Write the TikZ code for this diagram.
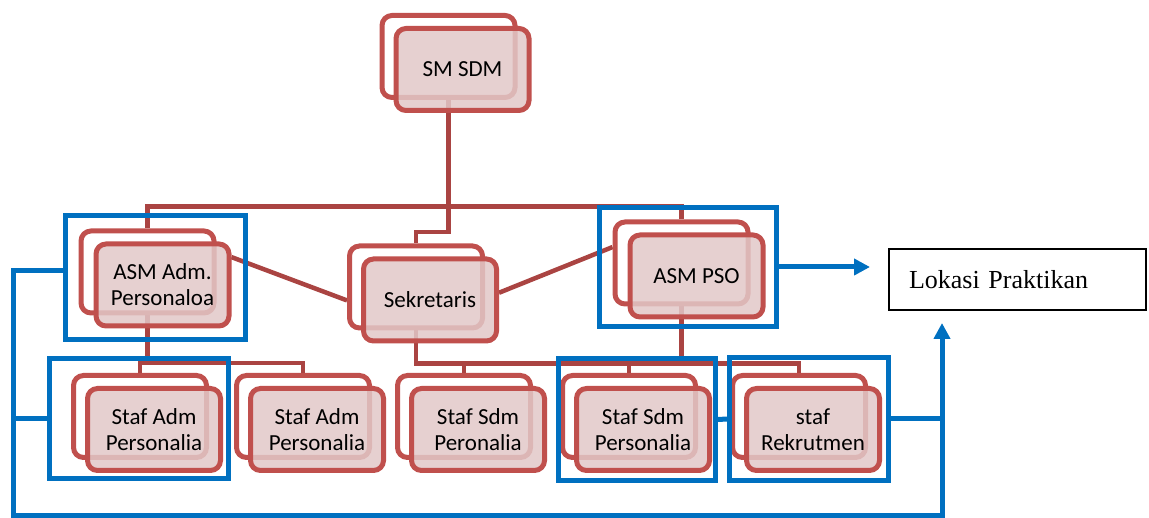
\documentclass[tikz,border=0pt]{standalone}
\usepackage{fontspec}
\setmainfont{Carlito}
\newfontfamily\timesfont{Liberation Serif}
\usepackage{tikz}
\usetikzlibrary{positioning, arrows.meta, calc, backgrounds}

\definecolor{orgred}{RGB}{192,80,77}
\definecolor{orglink}{RGB}{170,68,66}
\definecolor{orgfill}{RGB}{226,200,200}
\definecolor{markblue}{RGB}{0,112,192}

\begin{document}
\begin{tikzpicture}[
  x=1pt, y=-1pt,
  node distance=25pt,
  orgback/.style={
    rectangle, draw=orgred, line width=5pt, rounded corners=10pt,
    minimum width=133pt, minimum height=82pt
  },
  orgbox/.style={
    orgback, fill=orgfill, fill opacity=0.85, text opacity=1,
    font=\fontsize{23}{26}\selectfont, align=center, inner sep=0pt
  },
  link/.style={draw=orglink, line width=4.5pt},
  hlbox/.style={rectangle, draw=markblue, line width=5pt, inner sep=0pt},
  blueline/.style={draw=markblue, line width=5pt},
  bluearrow/.style={blueline, -{Triangle[length=16pt,width=16pt]}}
]
  \useasboundingbox (0,0) rectangle (1149,518);

  % Back frames
  \node[orgback] (smb) at (448.5,56.5) {};
  \node[orgback] (asmb) at (147.5,272) {};
  \node[orgback] (sekb) at (416,287) {};
  \node[orgback] (psob) at (681.5,263) {};
  \node[orgback] (st1b) at (140,416.5) {};
  \node[orgback, right=of st1b] (st2b) {};
  \node[orgback, right=23pt of st2b] (st3b) {};
  \node[orgback, right=27pt of st3b] (st4b) {};
  \node[orgback, right=32pt of st4b] (st5b) {};

  % Org chart boxes
  \node[orgbox] (sm) at ($(smb)+(14,13)$) {SM SDM};
  \node[orgbox] (asm) at ($(asmb)+(15,13)$) {ASM Adm.\\Personaloa};
  \node[orgbox] (sek) at ($(sekb)+(14,13)$) {Sekretaris};
  \node[orgbox] (pso) at ($(psob)+(15,13)$) {ASM PSO};
  \node[orgbox] (st1) at ($(st1b)+(14,13)$) {Staf Adm\\Personalia};
  \node[orgbox] (st2) at ($(st2b)+(14,13)$) {Staf Adm\\Personalia};
  \node[orgbox] (st3) at ($(st3b)+(14,13)$) {Staf Sdm\\Peronalia};
  \node[orgbox] (st4) at ($(st4b)+(14,13)$) {Staf Sdm\\Personalia};
  \node[orgbox] (st5) at ($(st5b)+(14,13)$) {staf\\Rekrutmen};

  % Org chart links
  \begin{scope}[on background layer]
    \draw[link] (asmb.north) -- ++(0,-22) -| (psob.north);
    \draw[link] (smb.south) -- ++(0,132) -| (sekb.north);
    \draw[link] (asm.22) -- (sekb.191);
    \draw[link] (sek.6) -- (psob.167);
    \draw[link] (asmb.south) -- ++(0,47.5);
    \draw[link] (st1b.north) -- ++(0,-10) -| (st2b.north);
    \draw[link] (sekb.south) -- ++(0,33) -| (st5b.north);
    \draw[link] (st3b.north) -- ++(0,-10);
    \draw[link] (st4b.north) -- ++(0,-10);
    \draw[link] (psob.south) -- ++(0,56);
  \end{scope}

  % Blue marks
  \node[hlbox, minimum width=180pt, minimum height=124pt] (hl-asm) at (155.5,277.5) {};
  \node[hlbox, minimum width=179pt, minimum height=120pt] (hl-st1) at (139,418.5) {};
  \node[hlbox, minimum width=177pt, minimum height=119pt] (hl-pso) at (688,267) {};
  \node[hlbox, minimum width=157pt, minimum height=122pt] (hl-st4) at (637,419.5) {};
  \node[hlbox, minimum width=159pt, minimum height=123pt] (hl-st5) at (809,419) {};

  \node[draw, line width=2pt, text width=217pt, inner xsep=20pt, inner ysep=0pt,
    minimum height=61pt, align=left,
    font=\timesfont\fontsize{26}{30}\selectfont] (lok) at (1017.5,279.5) {Lokasi Praktikan};

  % Blue links
  \coordinate (bl) at (13,515);
  \coordinate (br) at (942,515);
  \draw[bluearrow, shorten >=12pt] ([yshift=7pt]hl-asm.west) -| (bl) -- (br) -- (lok.south -| br);
  \draw[blueline] (hl-st1.west) -- (hl-st1.west -| bl);
  \draw[blueline] (hl-st5.east) -- (hl-st5.east -| br);
  \draw[blueline] (hl-st4.east) -- (hl-st5.west);
  \draw[bluearrow, shorten >=18pt] (hl-pso.east) -- (hl-pso.east -| lok.west);
\end{tikzpicture}
\end{document}
